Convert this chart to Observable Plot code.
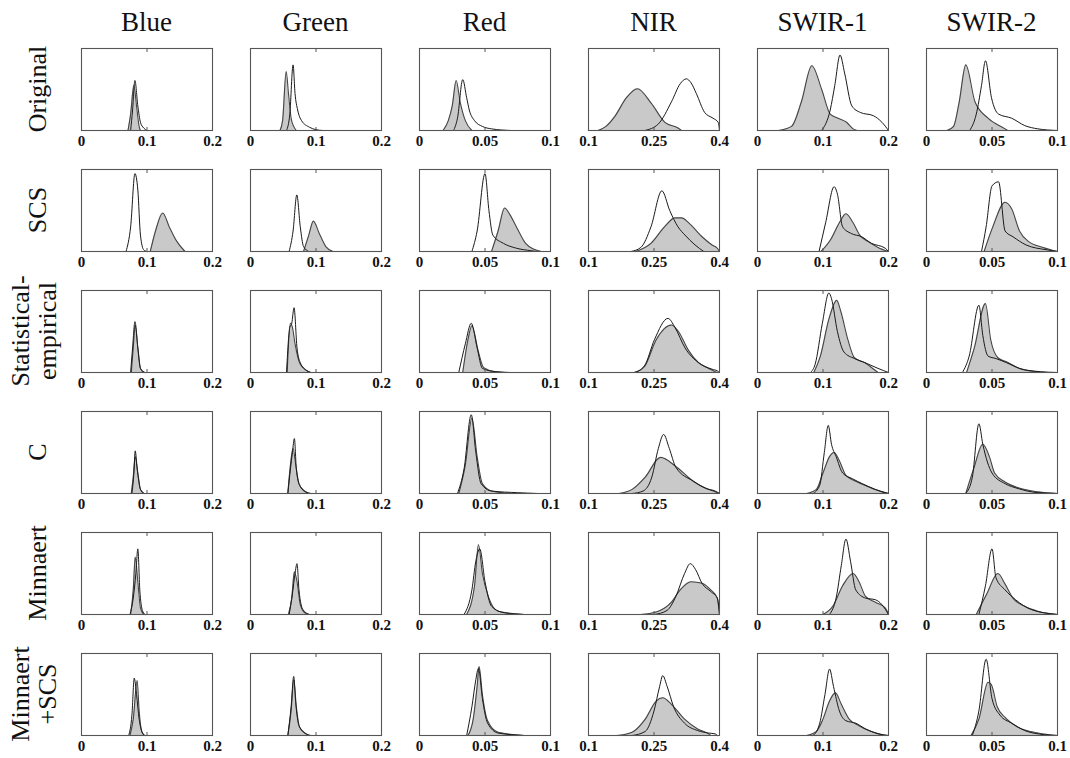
<!DOCTYPE html>
<html>
<head>
<meta charset="utf-8">
<script src="https://cdn.jsdelivr.net/npm/d3@7"></script>
<script src="https://cdn.jsdelivr.net/npm/@observablehq/plot@0.6"></script>
<style>
  html, body { margin: 0; padding: 0; background: #fff; }
  #chart { position: relative; width: 1070px; height: 758px; overflow: hidden; background: #fff; }
  #chart svg.panel { position: absolute; }
  #labels { position: absolute; left: 0; top: 0; }
</style>
</head>
<body>
<div id="chart"></div>
<script>
// ---------- data ----------
const bands = ["Blue", "Green", "Red", "NIR", "SWIR-1", "SWIR-2"];
const methods = [["Original"], ["SCS"], ["Statistical-", "empirical"], ["C"], ["Minnaert"], ["Minnaert", "+SCS"]];
const xDomains = [[0, 0.2], [0, 0.2], [0, 0.1], [0.1, 0.4], [0, 0.2], [0, 0.1]];
const tickValues = [[0, 0.1, 0.2], [0, 0.1, 0.2], [0, 0.05, 0.1], [0.1, 0.25, 0.4], [0, 0.1, 0.2], [0, 0.05, 0.1]];
const tickLabels = [["0", "0.1", "0.2"], ["0", "0.1", "0.2"], ["0", "0.05", "0.1"], ["0.1", "0.25", "0.4"], ["0", "0.1", "0.2"], ["0", "0.05", "0.1"]];

// each curve: [reflectance, relative frequency]
const originalFill = [
  [[0.071,0],[0.075,0.2],[0.08,0.55],[0.084,0.3],[0.088,0.05],[0.09,0]],
  [[0.045,0],[0.049,0.12],[0.0545,0.72],[0.058,0.45],[0.062,0.15],[0.066,0.05],[0.07,0]],
  [[0.018,0],[0.022,0.12],[0.025,0.3],[0.028,0.61],[0.031,0.35],[0.035,0.12],[0.04,0]],
  [[0.122,0],[0.14,0.05],[0.16,0.17],[0.187,0.4],[0.212,0.51],[0.244,0.33],[0.275,0.1],[0.305,0.03],[0.313,0]],
  [[0.032,0],[0.052,0.05],[0.067,0.35],[0.083,0.79],[0.098,0.5],[0.111,0.2],[0.123,0.15],[0.136,0.1],[0.146,0.02],[0.152,0]],
  [[0.0156,0],[0.0207,0.05],[0.025,0.35],[0.03,0.8],[0.037,0.35],[0.047,0.15],[0.06,0.02],[0.062,0]]
];
const originalLine = [
  [[0.075,0],[0.078,0.25],[0.0815,0.61],[0.086,0.3],[0.09,0.1],[0.095,0.03],[0.1,0]],
  [[0.055,0],[0.06,0.2],[0.065,0.8],[0.068,0.45],[0.072,0.25],[0.078,0.12],[0.09,0.04],[0.1,0.01],[0.11,0]],
  [[0.026,0],[0.029,0.15],[0.033,0.62],[0.036,0.4],[0.038,0.25],[0.042,0.12],[0.048,0.05],[0.055,0.02],[0.07,0]],
  [[0.229,0],[0.26,0.08],[0.29,0.35],[0.31,0.57],[0.324,0.63],[0.335,0.58],[0.347,0.45],[0.366,0.22],[0.385,0.15],[0.397,0.1],[0.4,0]],
  [[0.098,0],[0.111,0.25],[0.118,0.55],[0.126,0.92],[0.133,0.7],[0.144,0.3],[0.157,0.22],[0.177,0.18],[0.19,0.1],[0.2,0]],
  [[0.033,0],[0.038,0.2],[0.042,0.55],[0.045,0.85],[0.0496,0.4],[0.055,0.2],[0.065,0.15],[0.075,0.06],[0.085,0.02],[0.1,0]]
];
const scsFill = [
  [[0.105,0],[0.113,0.25],[0.124,0.47],[0.134,0.3],[0.145,0.13],[0.158,0]],
  [[0.081,0],[0.089,0.2],[0.096,0.37],[0.105,0.22],[0.115,0.06],[0.126,0]],
  [[0.055,0],[0.06,0.25],[0.065,0.53],[0.069,0.45],[0.074,0.3],[0.081,0.1],[0.087,0.03],[0.093,0]],
  [[0.208,0],[0.243,0.1],[0.274,0.3],[0.298,0.41],[0.313,0.41],[0.333,0.33],[0.36,0.18],[0.383,0.08],[0.395,0.04],[0.4,0]],
  [[0.097,0],[0.112,0.15],[0.125,0.35],[0.135,0.46],[0.146,0.35],[0.156,0.2],[0.169,0.12],[0.184,0.05],[0.2,0]],
  [[0.044,0],[0.0506,0.3],[0.06,0.6],[0.065,0.52],[0.071,0.25],[0.078,0.12],[0.089,0.05],[0.1,0]]
];
const scsLine = [
  [[0.068,0],[0.075,0.3],[0.0816,0.95],[0.086,0.75],[0.09,0.2],[0.095,0.02],[0.1,0]],
  [[0.059,0],[0.065,0.25],[0.0707,0.69],[0.076,0.3],[0.081,0.06],[0.089,0]],
  [[0.04,0],[0.044,0.25],[0.05,0.95],[0.053,0.5],[0.056,0.2],[0.064,0.1],[0.074,0.04],[0.085,0.01],[0.09,0]],
  [[0.197,0],[0.22,0.05],[0.243,0.3],[0.268,0.74],[0.286,0.5],[0.305,0.3],[0.321,0.2],[0.344,0.08],[0.364,0]],
  [[0.094,0],[0.104,0.35],[0.117,0.79],[0.122,0.7],[0.13,0.3],[0.143,0.22],[0.159,0.18],[0.174,0.1],[0.195,0.04],[0.2,0]],
  [[0.042,0],[0.0455,0.3],[0.05,0.8],[0.055,0.85],[0.06,0.25],[0.066,0.18],[0.076,0.08],[0.092,0.02],[0.1,0]]
];
const statFill = [
  [[0.076,0],[0.079,0.3],[0.082,0.58],[0.086,0.3],[0.09,0.05],[0.095,0]],
  [[0.056,0],[0.061,0.6],[0.064,0.55],[0.068,0.35],[0.076,0.1],[0.092,0]],
  [[0.033,0],[0.037,0.4],[0.04,0.57],[0.045,0.25],[0.049,0.06],[0.058,0.01],[0.069,0]],
  [[0.205,0],[0.228,0.07],[0.255,0.4],[0.29,0.58],[0.306,0.5],[0.329,0.27],[0.352,0.12],[0.375,0.05],[0.39,0.01],[0.395,0]],
  [[0.086,0],[0.096,0.2],[0.109,0.65],[0.121,0.88],[0.127,0.75],[0.138,0.4],[0.148,0.18],[0.164,0.12],[0.179,0.03],[0.184,0]],
  [[0.0306,0],[0.0365,0.3],[0.045,0.84],[0.049,0.4],[0.0545,0.18],[0.061,0.13],[0.071,0.05],[0.084,0.01],[0.092,0]]
];
const statLine = [
  [[0.075,0],[0.078,0.3],[0.0816,0.62],[0.086,0.3],[0.09,0.05],[0.097,0]],
  [[0.055,0],[0.06,0.55],[0.063,0.6],[0.0665,0.79],[0.071,0.3],[0.076,0.12],[0.086,0.02],[0.092,0]],
  [[0.03,0],[0.035,0.35],[0.0395,0.6],[0.044,0.3],[0.048,0.05],[0.058,0.01],[0.069,0]],
  [[0.205,0],[0.228,0.08],[0.251,0.4],[0.282,0.66],[0.298,0.55],[0.321,0.3],[0.352,0.12],[0.383,0.04],[0.395,0.02],[0.4,0]],
  [[0.081,0],[0.088,0.1],[0.099,0.6],[0.109,0.97],[0.113,0.9],[0.122,0.5],[0.132,0.25],[0.148,0.17],[0.164,0.12],[0.184,0.05],[0.2,0]],
  [[0.0275,0],[0.0326,0.2],[0.04,0.82],[0.043,0.45],[0.047,0.2],[0.053,0.17],[0.061,0.12],[0.071,0.05],[0.087,0.01],[0.1,0]]
];
const cFill = [
  [[0.076,0],[0.079,0.2],[0.082,0.45],[0.086,0.25],[0.09,0.05],[0.095,0]],
  [[0.057,0],[0.061,0.35],[0.065,0.55],[0.069,0.35],[0.074,0.12],[0.082,0.03],[0.09,0]],
  [[0.03,0],[0.035,0.35],[0.04,0.92],[0.044,0.45],[0.048,0.12],[0.055,0.03],[0.07,0]],
  [[0.17,0],[0.2,0.05],[0.23,0.2],[0.265,0.44],[0.3,0.33],[0.34,0.15],[0.37,0.06],[0.39,0.02],[0.4,0]],
  [[0.075,0],[0.09,0.05],[0.1,0.25],[0.11,0.45],[0.117,0.5],[0.125,0.4],[0.135,0.22],[0.15,0.15],[0.17,0.08],[0.19,0.02],[0.2,0]],
  [[0.03,0],[0.036,0.3],[0.043,0.6],[0.048,0.45],[0.052,0.25],[0.06,0.14],[0.07,0.07],[0.085,0.02],[0.1,0]]
];
const cLine = [
  [[0.077,0],[0.08,0.25],[0.082,0.52],[0.085,0.3],[0.09,0.05],[0.096,0]],
  [[0.057,0],[0.061,0.3],[0.064,0.5],[0.067,0.67],[0.07,0.3],[0.075,0.1],[0.085,0.02],[0.092,0]],
  [[0.029,0],[0.034,0.3],[0.0395,0.96],[0.043,0.5],[0.047,0.12],[0.055,0.03],[0.075,0.01],[0.09,0]],
  [[0.2,0],[0.225,0.03],[0.245,0.2],[0.26,0.55],[0.272,0.72],[0.285,0.55],[0.3,0.32],[0.34,0.15],[0.37,0.06],[0.39,0.03],[0.4,0]],
  [[0.085,0],[0.095,0.1],[0.102,0.5],[0.108,0.83],[0.113,0.6],[0.12,0.45],[0.13,0.25],[0.145,0.18],[0.16,0.12],[0.18,0.05],[0.2,0]],
  [[0.03,0],[0.035,0.2],[0.04,0.85],[0.043,0.6],[0.05,0.25],[0.06,0.12],[0.07,0.06],[0.085,0.01],[0.1,0]]
];
const minFill = [
  [[0.075,0],[0.079,0.3],[0.082,0.7],[0.086,0.4],[0.09,0.08],[0.095,0]],
  [[0.058,0],[0.063,0.2],[0.067,0.52],[0.071,0.4],[0.076,0.12],[0.083,0.02],[0.09,0]],
  [[0.036,0],[0.042,0.35],[0.045,0.85],[0.048,0.5],[0.053,0.2],[0.06,0.04],[0.08,0]],
  [[0.22,0],[0.26,0.04],[0.29,0.15],[0.31,0.3],[0.335,0.4],[0.36,0.38],[0.38,0.3],[0.395,0.2],[0.4,0]],
  [[0.1,0],[0.115,0.1],[0.13,0.35],[0.146,0.5],[0.155,0.4],[0.165,0.22],[0.18,0.15],[0.195,0.08],[0.2,0]],
  [[0.038,0],[0.046,0.25],[0.0545,0.5],[0.06,0.37],[0.066,0.2],[0.075,0.1],[0.085,0.04],[0.1,0]]
];
const minLine = [
  [[0.074,0],[0.079,0.2],[0.083,0.5],[0.086,0.8],[0.089,0.3],[0.093,0.05],[0.097,0]],
  [[0.059,0],[0.064,0.25],[0.068,0.5],[0.071,0.62],[0.074,0.3],[0.08,0.06],[0.09,0]],
  [[0.034,0],[0.04,0.3],[0.043,0.65],[0.046,0.8],[0.05,0.4],[0.055,0.1],[0.065,0.02],[0.08,0]],
  [[0.25,0],[0.28,0.05],[0.3,0.22],[0.32,0.5],[0.333,0.62],[0.345,0.55],[0.36,0.38],[0.38,0.28],[0.395,0.2],[0.4,0]],
  [[0.11,0],[0.12,0.2],[0.128,0.6],[0.135,0.92],[0.142,0.65],[0.15,0.3],[0.165,0.2],[0.18,0.18],[0.19,0.12],[0.2,0]],
  [[0.04,0],[0.045,0.35],[0.05,0.8],[0.053,0.45],[0.06,0.3],[0.068,0.18],[0.08,0.06],[0.1,0]]
];
const minScsFill = [
  [[0.074,0],[0.079,0.2],[0.085,0.67],[0.088,0.3],[0.092,0.05],[0.096,0]],
  [[0.057,0],[0.062,0.3],[0.066,0.68],[0.07,0.35],[0.075,0.1],[0.085,0.02],[0.09,0]],
  [[0.037,0],[0.041,0.2],[0.044,0.6],[0.0455,0.84],[0.048,0.5],[0.052,0.18],[0.06,0.04],[0.08,0]],
  [[0.165,0],[0.2,0.04],[0.23,0.2],[0.255,0.42],[0.27,0.46],[0.29,0.38],[0.32,0.2],[0.35,0.08],[0.375,0.02],[0.38,0]],
  [[0.075,0],[0.09,0.05],[0.1,0.2],[0.11,0.42],[0.119,0.52],[0.128,0.38],[0.14,0.2],[0.155,0.12],[0.17,0.06],[0.19,0.01],[0.2,0]],
  [[0.034,0],[0.04,0.2],[0.047,0.65],[0.0495,0.62],[0.054,0.35],[0.06,0.22],[0.07,0.1],[0.085,0.03],[0.1,0]]
];
const minScsLine = [
  [[0.072,0],[0.077,0.25],[0.0805,0.7],[0.084,0.5],[0.088,0.2],[0.093,0.03],[0.097,0]],
  [[0.057,0],[0.062,0.35],[0.066,0.72],[0.069,0.4],[0.074,0.12],[0.085,0.02],[0.092,0]],
  [[0.036,0],[0.04,0.35],[0.043,0.68],[0.045,0.82],[0.048,0.45],[0.052,0.15],[0.06,0.03],[0.08,0]],
  [[0.2,0],[0.23,0.05],[0.25,0.3],[0.263,0.6],[0.27,0.73],[0.28,0.6],[0.295,0.35],[0.32,0.15],[0.35,0.06],[0.375,0.03],[0.39,0.02],[0.395,0]],
  [[0.085,0],[0.095,0.15],[0.103,0.5],[0.11,0.81],[0.116,0.6],[0.125,0.3],[0.135,0.18],[0.15,0.15],[0.165,0.08],[0.185,0.02],[0.2,0]],
  [[0.035,0],[0.04,0.3],[0.0455,0.93],[0.05,0.45],[0.056,0.25],[0.065,0.15],[0.075,0.06],[0.09,0.01],[0.1,0]]
];

// ---------- layout ----------
const fillRows = [originalFill, scsFill, statFill, cFill, minFill, minScsFill];
const lineRows = [originalLine, scsLine, statLine, cLine, minLine, minScsLine];

const W = 1070, H = 758;
const panelW = 131, panelH = 82;
const col0 = 81, colStep = 169;
const row0 = 48, rowStep = 121;
const mL = 22, mR = 22, mT = 4, mB = 26;
const serif = "'Liberation Serif', 'Times New Roman', Times, serif";

const chart = document.getElementById("chart");

// header/row label layer
const labelSvg = d3.select(chart).append("svg")
  .attr("id", "labels").attr("width", W).attr("height", H);

bands.forEach((b, i) => {
  labelSvg.append("text")
    .attr("x", col0 + i * colStep + panelW / 2)
    .attr("y", 31)
    .attr("text-anchor", "middle")
    .attr("font-family", serif)
    .attr("font-size", 27)
    .attr("fill", "#111")
    .text(b);
});

methods.forEach((lines, j) => {
  const cy = row0 + j * rowStep + panelH / 2;
  const xs = lines.length === 1 ? [46] : [29, 56];
  lines.forEach((t, k) => {
    labelSvg.append("text")
      .attr("transform", `translate(${xs[k]},${cy}) rotate(-90)`)
      .attr("text-anchor", "middle")
      .attr("font-family", serif)
      .attr("font-size", 26)
      .attr("fill", "#111")
      .text(t);
  });
});

// panels
for (let j = 0; j < methods.length; j++) {
  for (let i = 0; i < bands.length; i++) {
    const ticks = tickValues[i];
    const labs = new Map(ticks.map((t, k) => [t, tickLabels[i][k]]));
    const fillData = fillRows[j][i];
    const lineData = lineRows[j][i];
    const svg = Plot.plot({
      width: panelW + mL + mR,
      height: panelH + mT + mB,
      marginLeft: mL, marginRight: mR, marginTop: mT, marginBottom: mB,
      style: {fontFamily: serif, fontSize: "15px", fontWeight: "bold", color: "#111", background: "transparent", overflow: "visible"},
      x: {domain: xDomains[i], label: null},
      y: {domain: [0, 1], axis: null},
      marks: [
        Plot.areaY(fillData, {x: d => d[0], y: d => d[1], fill: "#c9c9c9", curve: "monotone-x"}),
        Plot.lineY(fillData, {x: d => d[0], y: d => d[1], stroke: "#444", strokeWidth: 1.1, curve: "monotone-x"}),
        Plot.lineY(lineData, {x: d => d[0], y: d => d[1], stroke: "#1a1a1a", strokeWidth: 1, curve: "monotone-x"}),
        Plot.frame({stroke: "#555", strokeWidth: 1.1}),
        Plot.axisX(ticks, {anchor: "bottom", tickSize: -3, tickPadding: 8, stroke: "#555", tickFormat: d => labs.get(d), label: null,
          fontSize: 15, fontWeight: "bold", fontFamily: serif, fill: "#111"}),
        Plot.axisX(ticks, {anchor: "top", tickSize: -3, stroke: "#555", tickFormat: () => "", label: null})
      ]
    });
    svg.classList.add("panel");
    svg.style.left = (col0 + i * colStep - mL) + "px";
    svg.style.top = (row0 + j * rowStep - mT) + "px";
    chart.appendChild(svg);
  }
}
</script>
</body>
</html>
